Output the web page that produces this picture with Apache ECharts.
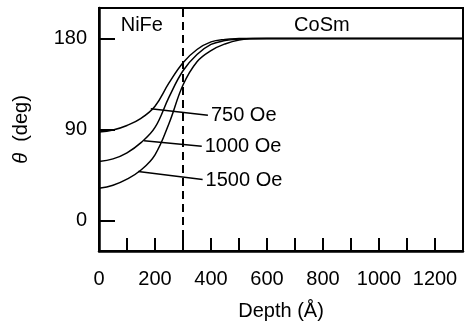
<!DOCTYPE html>
<html>
<head>
<meta charset="utf-8">
<script src="https://cdn.jsdelivr.net/npm/echarts@6/dist/echarts.min.js"></script>
<style>
  html, body { margin: 0; padding: 0; background: #fff; }
  #chart { width: 466px; height: 326px; }
</style>
</head>
<body>
<div id="chart"></div>
<script>
// depth in Å, angle in degrees
const depth = [0, 50, 100, 150, 200, 250, 300, 350, 400, 450, 500, 550, 600, 700, 800, 900, 1000, 1100, 1200, 1300];
const theta750 = [87.5, 89.5, 94, 101, 113, 136, 156, 169, 176.5, 179, 179.8, 180, 180, 180, 180, 180, 180, 180, 180, 180];
const theta1000 = [58.5, 61, 67, 77, 92, 122, 148, 164, 174, 177.8, 179.4, 180, 180, 180, 180, 180, 180, 180, 180, 180];
const theta1500 = [32, 35, 41, 50, 65, 96, 134, 157, 168, 174.5, 178.5, 179.7, 180, 180, 180, 180, 180, 180, 180, 180];

const xTickValues = [0, 100, 200, 300, 400, 500, 600, 700, 800, 900, 1000, 1100, 1200, 1300];
const xLabelValues = [0, 200, 400, 600, 800, 1000, 1200];
const yTickValues = [0, 90, 180];

// pointer lines from curve to field label: [start, end]
const pointers = [
  { name: '750 Oe', from: [185, 110.5], to: [389, 104] },
  { name: '1000 Oe', from: [161, 79], to: [367, 73.5] },
  { name: '1500 Oe', from: [140, 48.5], to: [370, 40.5] }
];
const interfaceDepth = 300;
const layerLabels = [
  { name: 'NiFe', coord: [153, 193] },
  { name: 'CoSm', coord: [796, 193] }
];

const font = 'Liberation Sans';
const fs = 20;
const chart = echarts.init(document.getElementById('chart'));

const curves = [theta750, theta1000, theta1500];
const series = curves.map((vals, i) => ({
  type: 'line',
  data: depth.map((d, j) => [d, vals[j]]),
  smooth: 0.4,
  symbol: 'none',
  lineStyle: { color: '#000', width: 1.5 },
  silent: true,
  markLine: {
    silent: true,
    symbol: 'none',
    animation: false,
    lineStyle: { color: '#000', width: 1.5, type: 'solid' },
    label: {
      show: true,
      position: 'end',
      distance: 3,
      formatter: pointers[i].name,
      color: '#000',
      fontFamily: font,
      fontSize: fs
    },
    data: [[{ coord: pointers[i].from }, { coord: pointers[i].to }]]
  }
}));

// interface dashed line + layer names
series.push({
  type: 'line',
  data: [],
  markLine: {
    silent: true,
    symbol: 'none',
    animation: false,
    label: { show: false },
    lineStyle: { color: '#000', width: 2, type: [8, 5] },
    data: [{ xAxis: interfaceDepth }]
  },
  markPoint: {
    silent: true,
    symbol: 'circle',
    symbolSize: 0,
    animation: false,
    label: {
      show: true,
      position: 'inside',
      color: '#000',
      fontFamily: font,
      fontSize: fs
    },
    data: layerLabels.map(l => ({ coord: l.coord, label: { formatter: l.name } }))
  }
});

chart.setOption({
  animation: false,
  backgroundColor: '#fff',
  grid: {
    left: 99, right: 3, top: 8, bottom: 75,
    show: true, borderColor: '#000', borderWidth: 2
  },
  xAxis: {
    type: 'value',
    min: 0,
    max: 1300,
    name: 'Depth (Å)',
    nameLocation: 'middle',
    nameGap: 50,
    nameTextStyle: { color: '#000', fontFamily: font, fontSize: fs },
    axisLine: { onZero: false, lineStyle: { color: '#000', width: 2.5 } },
    axisTick: { inside: true, length: 13, lineStyle: { color: '#000', width: 2 }, customValues: xTickValues },
    axisLabel: {
      color: '#000', fontFamily: font, fontSize: fs, margin: 18,
      customValues: xLabelValues, formatter: v => String(v)
    },
    splitLine: { show: false }
  },
  yAxis: {
    type: 'value',
    min: -30,
    max: 210,
    name: '{it|θ}  (deg)',
    nameLocation: 'middle',
    nameGap: 68,
    nameRotate: 90,
    nameTextStyle: {
      color: '#000', fontFamily: font, fontSize: fs,
      rich: { it: { fontStyle: 'italic', fontFamily: font, fontSize: fs, color: '#000' } }
    },
    axisLine: { show: true, onZero: false, lineStyle: { color: '#000', width: 2.5 } },
    axisTick: { inside: true, length: 16, lineStyle: { color: '#000', width: 2 }, customValues: yTickValues },
    axisLabel: { color: '#000', fontFamily: font, fontSize: fs, margin: 12, customValues: yTickValues },
    splitLine: { show: false }
  },
  series: series
});
</script>
</body>
</html>
